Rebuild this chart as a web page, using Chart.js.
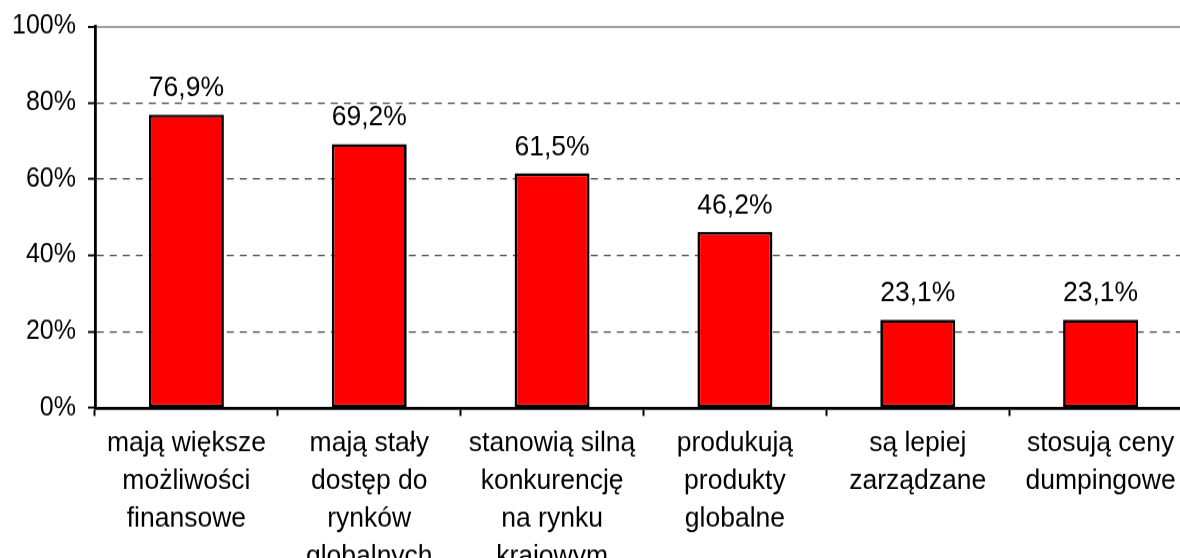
<!DOCTYPE html>
<html>
<head>
<meta charset="utf-8">
<script src="https://cdn.jsdelivr.net/npm/chart.js@4"></script>
<style>
  html, body { margin: 0; padding: 0; background: #fff; overflow: hidden; }
  /* w oryginale tekst jest lekko wyciągnięty w pionie (~1.08x): płótno 517 px pokazujemy na 558 px */
  #chart { display: block; width: 1200px; height: 558px; }
</style>
</head>
<body>
<canvas id="chart" width="1200" height="517" style="width:1200px;height:558px"></canvas>
<script>
// Dane wykresu
const categories = [
  ['mają większe', 'możliwości', 'finansowe'],
  ['mają stały', 'dostęp do', 'rynków', 'globalnych'],
  ['stanowią silną', 'konkurencję', 'na rynku', 'krajowym'],
  ['produkują', 'produkty', 'globalne'],
  ['są lepiej', 'zarządzane'],
  ['stosują ceny', 'dumpingowe']
];
const values = [76.9, 69.2, 61.5, 46.2, 23.1, 23.1];
const valueLabels = ['76,9%', '69,2%', '61,5%', '46,2%', '23,1%', '23,1%'];
const yTicks = [0, 20, 40, 60, 80, 100];

const FONT = "'Liberation Sans', Arial, sans-serif";

// etykiety wartości nad słupkami
const valueLabelPlugin = {
  id: 'valueLabels',
  afterDatasetsDraw(chart) {
    const { ctx } = chart;
    const meta = chart.getDatasetMeta(0);
    ctx.save();
    ctx.font = '26.5px ' + FONT;
    ctx.fillStyle = '#000';
    ctx.textAlign = 'center';
    ctx.textBaseline = 'bottom';
    meta.data.forEach((bar, i) => {
      ctx.fillText(valueLabels[i], bar.x, bar.y - 11);
    });
    ctx.restore();
  }
};

new Chart(document.getElementById('chart'), {
  type: 'bar',
  data: {
    labels: categories,
    datasets: [{
      data: values,
      backgroundColor: '#ff0000',
      borderColor: '#000',
      borderWidth: 2.7,
      borderSkipped: false,
      barPercentage: 0.41,
      categoryPercentage: 1
    }]
  },
  options: {
    responsive: false,
    devicePixelRatio: 1,
    animation: false,
    events: [],
    layout: { padding: { top: 24, right: 8, left: 0, bottom: 0 } },
    plugins: { legend: { display: false }, tooltip: { enabled: false } },
    scales: {
      x: {
        offset: true,
        grid: {
          offset: true,
          drawOnChartArea: false,
          drawTicks: true,
          tickLength: 7.4,
          tickColor: '#000',
          tickWidth: 2
        },
        border: { display: true, color: '#000', width: 2.8, z: 1 },
        ticks: {
          color: '#000',
          font: { family: FONT, size: 26.5, lineHeight: 1.33 },
          padding: 7.4,
          maxRotation: 0,
          autoSkip: false
        },
        afterFit(scale) { scale.height = 139; }
      },
      y: {
        min: 0,
        max: 100,
        afterBuildTicks(scale) { scale.ticks = yTicks.map(v => ({ value: v })); },
        grid: {
          drawTicks: true,
          tickLength: 7,
          tickColor: '#000',
          tickWidth: 1.9,
          lineWidth: ctx => (ctx.tick && ctx.tick.value === 100) ? 2 : 1.2,
          color: ctx => {
            if (!ctx.tick) return '#444';
            if (ctx.tick.value === 0) return 'rgba(0,0,0,0)';
            if (ctx.tick.value === 100) return '#a0a0a0';
            return '#444';
          }
        },
        border: {
          display: true,
          color: '#000',
          width: 2.8,
          dash: ctx => (ctx.tick && ctx.tick.value === 100) ? [] : [7, 6]
        },
        ticks: {
          color: '#000',
          font: { family: FONT, size: 25, lineHeight: 1.0 },
          padding: 12,
          callback: v => v + '%'
        },
        afterFit(scale) { scale.width = 95; }
      }
    }
  },
  plugins: [valueLabelPlugin]
});
</script>
</body>
</html>
